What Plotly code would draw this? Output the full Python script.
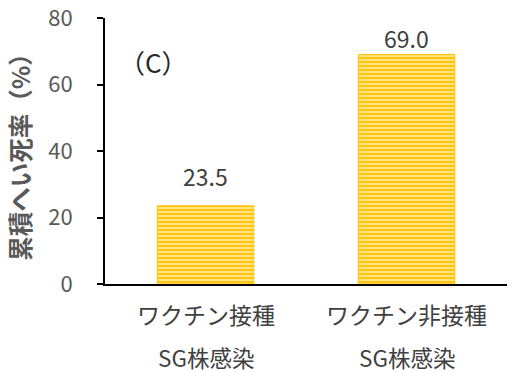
import plotly.graph_objects as go

# Data
categories = ["ワクチン接種", "ワクチン非接種"]
subtitles = ["SG株感染", "SG株感染"]
mortality = [23.5, 69.0]
y_ticks = [0, 20, 40, 60, 80]

FONT = "Noto Sans CJK JP"
x_pos = list(range(len(categories)))

fig = go.Figure()
fig.add_trace(go.Bar(
    x=x_pos,
    y=mortality,
    width=0.48,
    marker=dict(
        color="#FFC820",
        line=dict(color="#FFC000", width=1),
        pattern=dict(shape="-", bgcolor="#FFC414", fgcolor="#FFE98F",
                     size=4, solidity=0.45, fillmode="replace"),
    ),
    hoverinfo="skip",
))

annotations = []
# value labels above bars
label_shift = [11, -2]
for xi, v, s in zip(x_pos, mortality, label_shift):
    annotations.append(dict(
        x=xi, y=v, xref="x", yref="y", text=f"{v:.1f}", showarrow=False,
        yanchor="bottom", yshift=s,
        font=dict(family=FONT, size=23, color="#404040"),
    ))
# two-line category labels
for xi, c, sub in zip(x_pos, categories, subtitles):
    annotations.append(dict(
        x=xi, y=0, xref="x", yref="paper", text=c, showarrow=False,
        yanchor="middle", yshift=-30,
        font=dict(family=FONT, size=23, color="#404040"),
    ))
    annotations.append(dict(
        x=xi, y=0, xref="x", yref="paper", text=sub, showarrow=False,
        yanchor="middle", yshift=-73,
        font=dict(family=FONT, size=22.5, color="#404040"),
    ))
# panel tag
annotations.append(dict(
    x=0.03, y=0.835, xref="paper", yref="paper", text="（C）", showarrow=False,
    xanchor="left", yanchor="middle",
    font=dict(family=FONT, size=26, color="#262626"),
))

fig.update_layout(
    width=508, height=372,
    margin=dict(l=105, r=1, t=18, b=88),
    paper_bgcolor="white", plot_bgcolor="white",
    showlegend=False,
    annotations=annotations,
    xaxis=dict(
        range=[-0.5, 1.5], showticklabels=False, ticks="",
        showline=True, linecolor="black", linewidth=2,
        showgrid=False, zeroline=False, fixedrange=True,
    ),
    yaxis=dict(
        range=[0, 80], tickvals=y_ticks, ticks="outside", ticklen=6,
        tickcolor="black", tickwidth=2, showline=True, linecolor="black",
        linewidth=2, showgrid=False, zeroline=False,
        tickfont=dict(family=FONT, size=22, color="#595959"),
        ticklabelstandoff=20, ticklabeloverflow="allow",
        title=dict(text="<b>累積へい死率（%）</b>", standoff=11,
                   font=dict(family=FONT, size=24.5, color="#595959")),
        automargin=False,
        fixedrange=True,
    ),
)

fig.write_html("out.html")
